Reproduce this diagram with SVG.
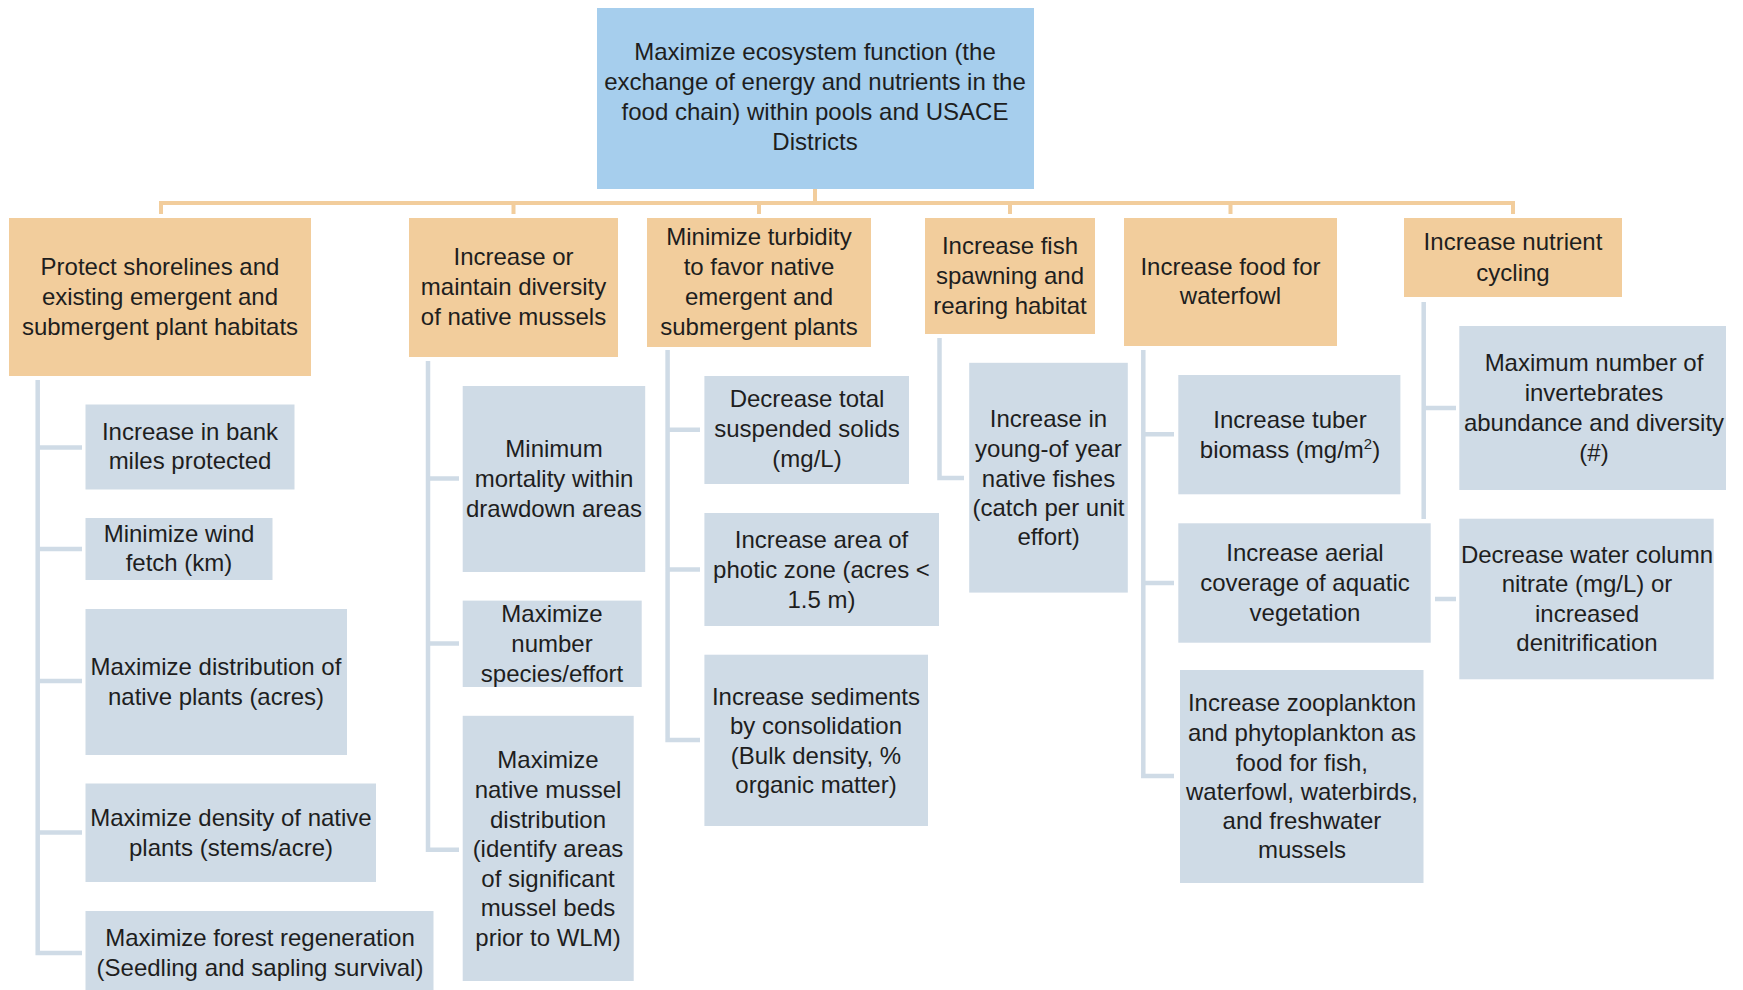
<svg xmlns="http://www.w3.org/2000/svg" width="1743" height="990" viewBox="0 0 1743 990">
<style>
text{font-family:"Liberation Sans",Arial,sans-serif;font-size:24px;fill:#1e1e1e;text-anchor:middle}
.top{fill:#A6CEED}
.goal{fill:#F2CD9C}
.obj{fill:#CFDBE6}
.oc{stroke:#F2CD9C;stroke-width:4;fill:none}
.bc{stroke:#CFDBE6;stroke-width:4.5;fill:none;stroke-linejoin:miter}
</style>
<rect width="1743" height="990" fill="#ffffff"/>
<g id="connectors">
<path class="oc" d="M815 189V203M159 203H1515M161 203V214M513.5 203V214M759 203V214M1010 203V214M1230.5 203V214M1513 203V214"/>
<path class="bc" d="M37.7 380V953H82M37.7 447.5H82M37.7 549H82M37.7 681H82M37.7 832.5H82"/>
<path class="bc" d="M428 361V849.7H459M428 478.4H459M428 643.4H459"/>
<path class="bc" d="M667.6 350V740H700M667.6 429.8H700M667.6 569.5H700"/>
<path class="bc" d="M939.5 338V478H964"/>
<path class="bc" d="M1143.3 350V776H1174M1143.3 434.3H1174M1143.3 583H1174"/>
<path class="bc" d="M1423.7 302V519M1423.7 408H1456M1435 599H1456"/>
</g>
<g id="root">
<rect class="top" x="597" y="8" width="437" height="181"/>
<text x="815" y="60">Maximize ecosystem function (the</text>
<text x="815" y="90">exchange of energy and nutrients in the</text>
<text x="815" y="120">food chain) within pools and USACE</text>
<text x="815" y="150">Districts</text>
</g>
<g id="goal1">
<rect class="goal" x="9" y="218" width="302" height="158"/>
<text x="160" y="275">Protect shorelines and</text>
<text x="160" y="305">existing emergent and</text>
<text x="160" y="335">submergent plant habitats</text>
</g>
<g id="goal2">
<rect class="goal" x="409" y="218" width="209" height="139"/>
<text x="513.5" y="265">Increase or</text>
<text x="513.5" y="295">maintain diversity</text>
<text x="513.5" y="325">of native mussels</text>
</g>
<g id="goal3">
<rect class="goal" x="647" y="218" width="224" height="129"/>
<text x="759" y="245">Minimize turbidity</text>
<text x="759" y="275">to favor native</text>
<text x="759" y="305">emergent and</text>
<text x="759" y="335">submergent plants</text>
</g>
<g id="goal4">
<rect class="goal" x="925" y="218" width="170" height="116"/>
<text x="1010" y="254">Increase fish</text>
<text x="1010" y="284">spawning and</text>
<text x="1010" y="314">rearing habitat</text>
</g>
<g id="goal5">
<rect class="goal" x="1124" y="218" width="213" height="128"/>
<text x="1230.5" y="275">Increase food for</text>
<text x="1230.5" y="304">waterfowl</text>
</g>
<g id="goal6">
<rect class="goal" x="1404" y="218" width="218" height="79"/>
<text x="1513" y="250">Increase nutrient</text>
<text x="1513" y="281">cycling</text>
</g>
<g id="obj-bank">
<rect class="obj" x="85.5" y="404.5" width="209" height="85"/>
<text x="190" y="440">Increase in bank</text>
<text x="190" y="469">miles protected</text>
</g>
<g id="obj-wind">
<rect class="obj" x="85.5" y="518" width="187" height="62"/>
<text x="179" y="542">Minimize wind</text>
<text x="179" y="571">fetch (km)</text>
</g>
<g id="obj-distribution">
<rect class="obj" x="85.5" y="609" width="261.5" height="146"/>
<text x="216" y="675">Maximize distribution of</text>
<text x="216" y="705">native plants (acres)</text>
</g>
<g id="obj-density">
<rect class="obj" x="85.5" y="783.5" width="290.5" height="98.5"/>
<text x="231" y="826">Maximize density of native</text>
<text x="231" y="856">plants (stems/acre)</text>
</g>
<g id="obj-forest">
<rect class="obj" x="85.5" y="911" width="348" height="79"/>
<text x="260" y="946">Maximize forest regeneration</text>
<text x="260" y="976">(Seedling and sapling survival)</text>
</g>
<g id="obj-mortality">
<rect class="obj" x="462.7" y="386" width="182.5" height="186"/>
<text x="554" y="457">Minimum</text>
<text x="554" y="487">mortality within</text>
<text x="554" y="517">drawdown areas</text>
</g>
<g id="obj-species">
<rect class="obj" x="462.7" y="600.6" width="179" height="86.4"/>
<text x="552" y="622">Maximize</text>
<text x="552" y="652">number</text>
<text x="552" y="682">species/effort</text>
</g>
<g id="obj-mussel">
<rect class="obj" x="462.7" y="715.8" width="171" height="265.2"/>
<text x="548" y="768">Maximize</text>
<text x="548" y="798">native mussel</text>
<text x="548" y="828">distribution</text>
<text x="548" y="857">(identify areas</text>
<text x="548" y="887">of significant</text>
<text x="548" y="916">mussel beds</text>
<text x="548" y="946">prior to WLM)</text>
</g>
<g id="obj-tss">
<rect class="obj" x="704.4" y="376" width="204.6" height="108"/>
<text x="807" y="407">Decrease total</text>
<text x="807" y="437">suspended solids</text>
<text x="807" y="467">(mg/L)</text>
</g>
<g id="obj-photic">
<rect class="obj" x="704.4" y="513" width="234.6" height="113"/>
<text x="821.5" y="548">Increase area of</text>
<text x="821.5" y="578">photic zone (acres &lt;</text>
<text x="821.5" y="608">1.5 m)</text>
</g>
<g id="obj-sediments">
<rect class="obj" x="704.4" y="654.7" width="223.6" height="171.3"/>
<text x="816" y="705">Increase sediments</text>
<text x="816" y="734">by consolidation</text>
<text x="816" y="764">(Bulk density, %</text>
<text x="816" y="793">organic matter)</text>
</g>
<g id="obj-youngofyear">
<rect class="obj" x="969.2" y="362.8" width="158.6" height="229.8"/>
<text x="1048.5" y="427">Increase in</text>
<text x="1048.5" y="457">young-of year</text>
<text x="1048.5" y="487">native fishes</text>
<text x="1048.5" y="516">(catch per unit</text>
<text x="1048.5" y="545">effort)</text>
</g>
<g id="obj-tuber">
<rect class="obj" x="1178.3" y="375" width="222.1" height="119.3"/>
<text x="1290" y="428">Increase tuber</text>
<text x="1290" y="458">biomass (mg/m<tspan font-size="15" dy="-9">2</tspan><tspan dy="9">)</tspan></text>
</g>
<g id="obj-aerial">
<rect class="obj" x="1178.3" y="523.3" width="252.4" height="119.4"/>
<text x="1305" y="561">Increase aerial</text>
<text x="1305" y="591">coverage of aquatic</text>
<text x="1305" y="621">vegetation</text>
</g>
<g id="obj-plankton">
<rect class="obj" x="1180" y="670" width="243.5" height="213"/>
<text x="1302" y="711">Increase zooplankton</text>
<text x="1302" y="741">and phytoplankton as</text>
<text x="1302" y="771">food for fish,</text>
<text x="1302" y="800">waterfowl, waterbirds,</text>
<text x="1302" y="829">and freshwater</text>
<text x="1302" y="858">mussels</text>
</g>
<g id="obj-invertebrates">
<rect class="obj" x="1459.3" y="326" width="266.7" height="164"/>
<text x="1594" y="371">Maximum number of</text>
<text x="1594" y="401">invertebrates</text>
<text x="1594" y="431">abundance and diversity</text>
<text x="1594" y="461">(#)</text>
</g>
<g id="obj-nitrate">
<rect class="obj" x="1459.3" y="518.7" width="254.4" height="160.6"/>
<text x="1587" y="563">Decrease water column</text>
<text x="1587" y="592">nitrate (mg/L) or</text>
<text x="1587" y="622">increased</text>
<text x="1587" y="651">denitrification</text>
</g>
</svg>
